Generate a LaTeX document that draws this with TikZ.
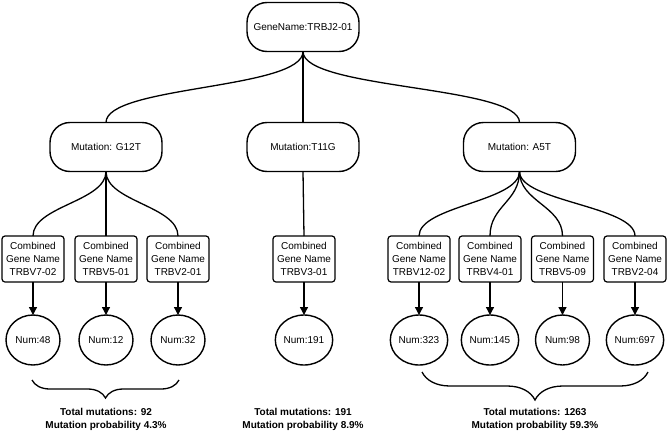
\documentclass[tikz,border=0pt]{standalone}
\usepackage{fontspec}
\setmainfont{Liberation Sans}
\usetikzlibrary{arrows.meta,decorations.pathreplacing,shapes.geometric}
\begin{document}
\begin{tikzpicture}[x=1pt,y=-1pt,
 every node/.style={font=\fontsize{10}{12.8}\selectfont, inner sep=0pt, outer sep=0pt},
 pill/.style={draw, line width=1.4pt, rounded corners=20pt, minimum width=112pt, minimum height=49pt},
 genebox/.style={draw, line width=1.2pt, rounded corners=3pt, minimum width=62pt, minimum height=46pt, align=center},
 numnode/.style={draw, ellipse, line width=1.4pt, minimum width=54pt, minimum height=50pt},
 link/.style={line width=1.3pt},
 arr/.style={line width=1.3pt, -{Triangle[length=8pt,width=8pt]}},
 bracestyle/.style={line width=1.3pt, decorate, decoration={brace, mirror, amplitude=#1}},
 total/.style={font=\bfseries\fontsize{10}{13}\selectfont, align=center}
]
\useasboundingbox (0,0) rectangle (669,434);

% top level
\node[pill] (root) at (303,27) {GeneName:TRBJ2-01};
\node[pill] (g12) at (106,147) {Mutation: G12T};
\node[pill] (t11) at (303,147) {Mutation:T11G};
\node[pill] (a5) at (519.5,147) {Mutation: A5T};

% gene boxes
\node[genebox] (b1) at (33,259) {Combined\\Gene Name\\TRBV7-02};
\node[genebox] (b2) at (106,259) {Combined\\Gene Name\\TRBV5-01};
\node[genebox] (b3) at (178,259) {Combined\\Gene Name\\TRBV2-01};
\node[genebox] (b4) at (304,259) {Combined\\Gene Name\\TRBV3-01};
\node[genebox] (b5) at (419,259) {Combined\\Gene Name\\TRBV12-02};
\node[genebox] (b6) at (490,259) {Combined\\Gene Name\\TRBV4-01};
\node[genebox] (b7) at (562.5,259) {Combined\\Gene Name\\TRBV5-09};
\node[genebox] (b8) at (635,259) {Combined\\Gene Name\\TRBV2-04};

% numbers
\node[numnode] (n1) at (33,340) {Num:48};
\node[numnode] (n2) at (106,340) {Num:12};
\node[numnode] (n3) at (178,340) {Num:32};
\node[numnode] (n4) at (304,340) {Num:191};
\node[numnode] (n5) at (419,340) {Num:323};
\node[numnode] (n6) at (490,340) {Num:145};
\node[numnode] (n7) at (562.5,340) {Num:98};
\node[numnode] (n8) at (635,340) {Num:697};

% root connectors
\draw[link] (root.south) .. controls +(0,38) and +(0,-37) .. (g12.north);
\draw[link] (root.south) -- (t11.north);
\draw[link] (root.south) .. controls +(0,38) and +(0,-37) .. (a5.north);

% mutation connectors
\draw[link] (g12.south) .. controls +(0,30) and +(0,-30) .. (b1.north);
\draw[link] (g12.south) -- (b2.north);
\draw[link] (g12.south) .. controls +(0,30) and +(0,-30) .. (b3.north);
\draw[link] (t11.south) -- (b4.north);
\draw[link] (a5.south) .. controls +(0,30) and +(0,-30) .. (b5.north);
\draw[link] (a5.south) .. controls +(0,30) and +(0,-30) .. (b6.north);
\draw[link] (a5.south) .. controls +(0,30) and +(0,-30) .. (b7.north);
\draw[link] (a5.south) .. controls +(0,30) and +(0,-30) .. (b8.north);

% arrows
\foreach \i in {1,...,8} {\draw[arr] (b\i.south) -- (n\i.north);}

% braces
\coordinate (brL1) at (32,380);
\coordinate (brL2) at (179,380);
\coordinate (brR1) at (422,372);
\coordinate (brR2) at (648,372);
\draw[bracestyle=18pt] (brL1) -- (brL2);
\draw[bracestyle=28pt] (brR1) -- (brR2);

% totals
\node[total] (tot1) at (106,419.5) {Total mutations: 92\\Mutation probability 4.3\%};
\node[total] (tot2) at (303,419.5) {Total mutations: 191\\Mutation probability 8.9\%};
\node[total] (tot3) at (535,419.5) {Total mutations: 1263\\Mutation probability 59.3\%};
\end{tikzpicture}
\end{document}
